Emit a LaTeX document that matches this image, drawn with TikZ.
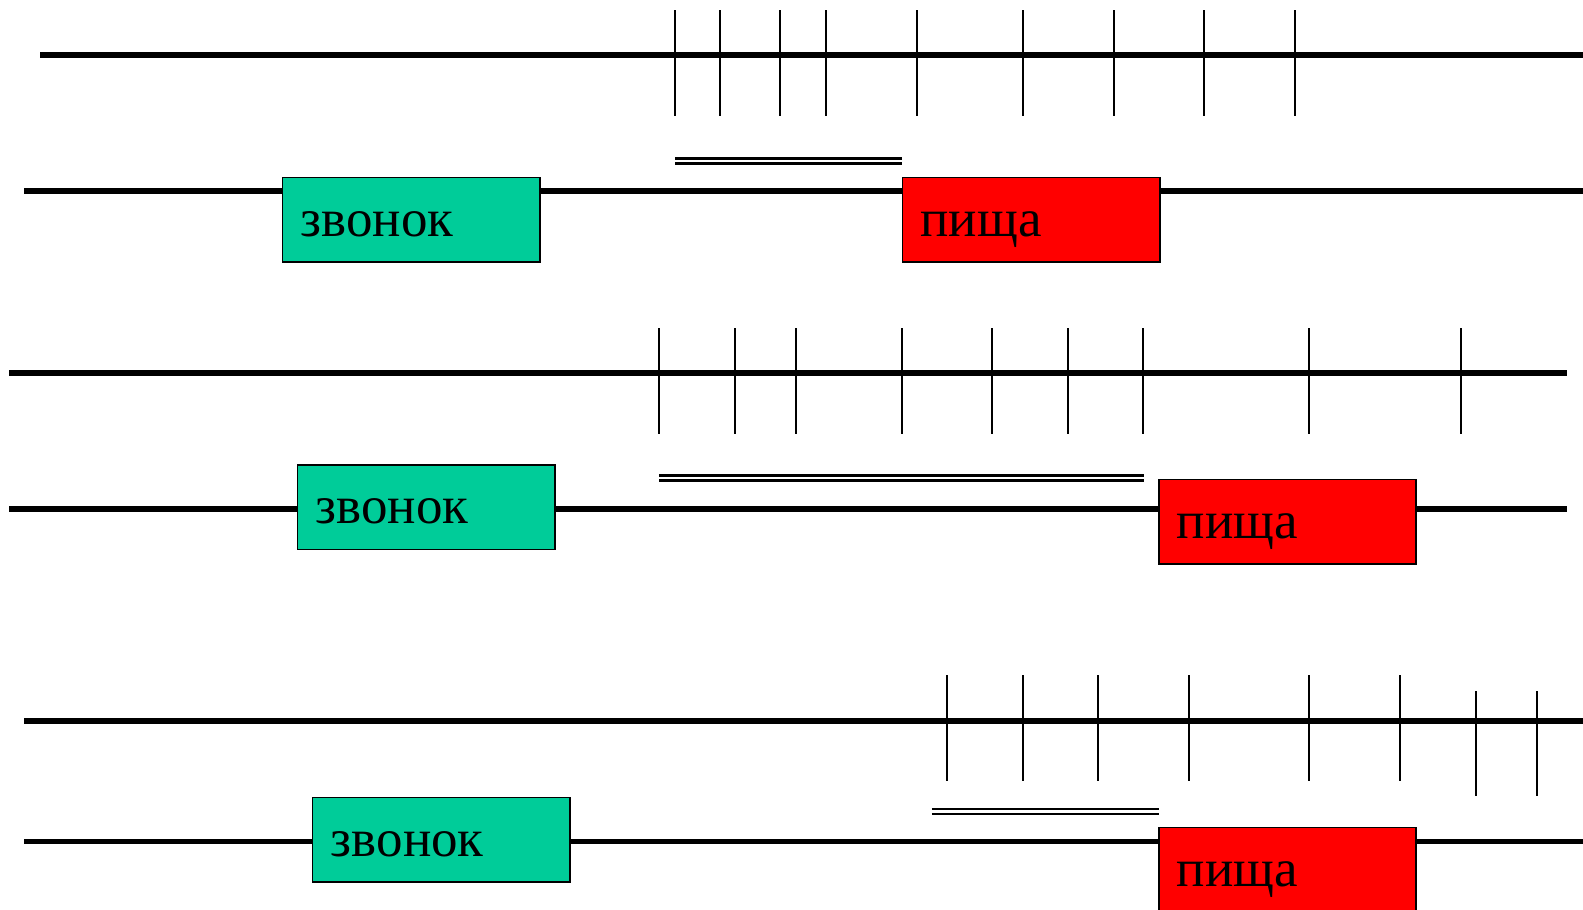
\documentclass[tikz,border=0pt]{standalone}
\usepackage{fontspec}
\setmainfont{Liberation Serif}
\definecolor{bellgreen}{HTML}{00CC99}
\definecolor{foodred}{HTML}{FF0000}
\begin{document}
\begin{tikzpicture}[x=1pt,y=-1pt,
  axis/.style={line width=5.8pt},
  spike/.style={line width=2pt},
  dbl/.style={line width=2.2pt},
  evbox/.style={draw=black,line width=1.5pt,rectangle,anchor=north west,
    minimum width=255pt,minimum height=84pt,inner xsep=18pt,inner ysep=0pt,
    text width=219pt,align=left,text height=33.2pt,text depth=0pt,
    font=\fontsize{52.5}{60}\selectfont},
  bell/.style={evbox,fill=bellgreen},
  food/.style={evbox,fill=foodred}]
\clip (0,0) rectangle (1568,901);
\fill[white] (0,0) rectangle (1568,901);
% ---------- row 1 ----------
\coordinate (a1) at (40,54.5); \coordinate (b1) at (1568,54.5);
\draw[axis] (a1) -- (b1);
\foreach \x in {669,713,773,818,908,1013,1103,1193,1283}
  \draw[spike] (\x,10) -- (\x,115);
\coordinate (d1a) at (669,157); \coordinate (d1b) at (893,157);
\coordinate (d1c) at (669,162); \coordinate (d1d) at (893,162);
\draw[dbl] (d1a) -- (d1b); \draw[dbl] (d1c) -- (d1d);
\coordinate (a2) at (24,189); \coordinate (b2) at (1568,189);
\draw[axis] (a2) -- (b2);
\node[bell] (g1) at (279,175) {звонок};
\node[food] (r1) at (893,175) {пища};
% ---------- row 2 ----------
\coordinate (a3) at (9,369.5); \coordinate (b3) at (1552,369.5);
\draw[axis] (a3) -- (b3);
\foreach \x in {653,728,788,893,983,1058,1132,1297,1447}
  \draw[spike] (\x,325) -- (\x,430);
\coordinate (d2a) at (653,471); \coordinate (d2b) at (1133,471);
\coordinate (d2c) at (653,476); \coordinate (d2d) at (1133,476);
\draw[dbl] (d2a) -- (d2b); \draw[dbl] (d2c) -- (d2d);
\coordinate (a4) at (9,504); \coordinate (b4) at (1552,504);
\draw[axis] (a4) -- (b4);
\node[bell] (g2) at (294,459.6) {звонок};
\node[food] (r2) at (1147,474) {пища};
% ---------- row 3 ----------
\coordinate (a5) at (24,713.8); \coordinate (b5) at (1568,713.8);
\draw[axis] (a5) -- (b5);
\foreach \x in {938,1013,1088,1178,1297,1387}
  \draw[spike] (\x,669) -- (\x,773.5);
\foreach \x in {1462,1522}
  \draw[spike] (\x,684.5) -- (\x,788.5);
\coordinate (d3a) at (923,801.3); \coordinate (d3b) at (1148,801.3);
\coordinate (d3c) at (923,806); \coordinate (d3d) at (1148,806);
\draw[dbl] (d3a) -- (d3b); \draw[dbl] (d3c) -- (d3d);
\coordinate (a6) at (24,833.5); \coordinate (b6) at (1568,833.5);
\draw[axis] (a6) -- (b6);
\node[bell] (g3) at (309,789) {звонок};
\node[food] (r3) at (1147,819) {пища};
\end{tikzpicture}
\end{document}
